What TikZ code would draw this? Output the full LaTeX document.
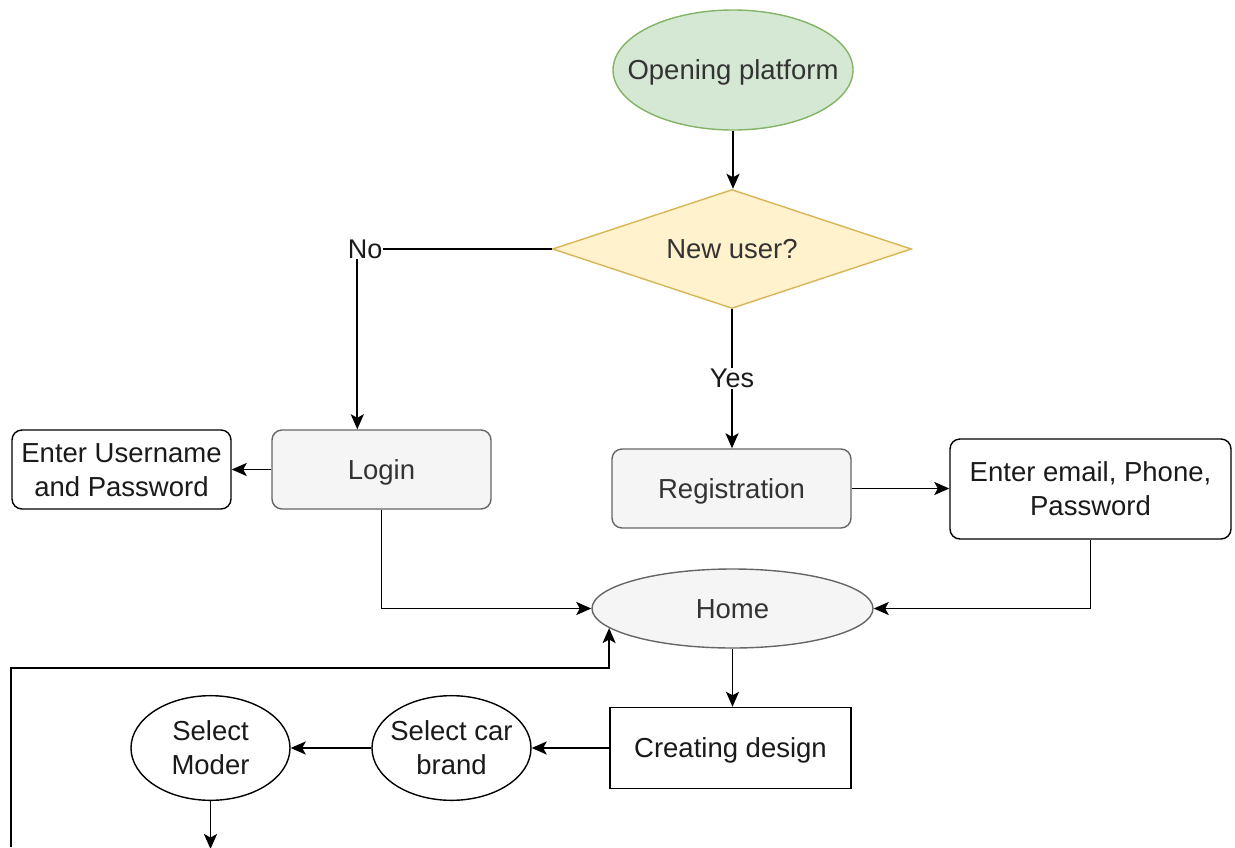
\documentclass[tikz,border=0pt]{standalone}
\usepackage{fontspec}
\setmainfont{Liberation Sans}
\usetikzlibrary{shapes.geometric,arrows.meta,calc}
\definecolor{startfill}{HTML}{D5E8D4}
\definecolor{startline}{HTML}{82B366}
\definecolor{askfill}{HTML}{FFF2CC}
\definecolor{askline}{HTML}{D6B656}
\definecolor{grayfill}{HTML}{F5F5F5}
\definecolor{grayline}{HTML}{666666}
\definecolor{graytext}{HTML}{333333}
\definecolor{inktext}{HTML}{1A1A1A}
% zero-width centred text so the shape keeps its given size;
% the extra height sets the text a little below the node centre
\newcommand{\zw}[1]{\makebox[0pt]{\raisebox{0pt}[\dimexpr\height+6pt\relax][\depth]{\begin{tabular}{@{}c@{}}#1\end{tabular}}}}
\tikzset{
  base/.style={inner sep=0pt, line width=1.4pt, font=\fontsize{27.5}{34}\selectfont, text=inktext},
  startnode/.style={base, ellipse, draw=startline, fill=startfill, text=graytext},
  asknode/.style={base, diamond, draw=askline, fill=askfill, text=graytext},
  graybox/.style={base, rectangle, rounded corners=10pt, draw=grayline, fill=grayfill, text=graytext},
  grayoval/.style={base, ellipse, draw=grayline, fill=grayfill, text=graytext},
  inbox/.style={base, rectangle, rounded corners=10pt, draw=black, fill=white},
  plainbox/.style={base, rectangle, draw=black, fill=white},
  oval/.style={base, ellipse, draw=black, fill=white},
  arr/.style={line width=1.9pt, -{Stealth[length=15pt,width=13pt,inset=3.5pt]}},
  lbl/.style={fill=white, inner sep=1pt, text=inktext, font=\fontsize{27}{32}\selectfont}
}
\begin{document}
\begin{tikzpicture}[x=1pt,y=-1pt]
\useasboundingbox (0,0) rectangle (1235,847);

\node[startnode, minimum width=240pt, minimum height=120pt] (open) at (733,70) {\zw{Opening platform}};
\node[asknode, minimum width=359pt, minimum height=119pt] (ask) at (732,249) {\zw{New user?}};
\node[graybox, minimum width=219pt, minimum height=79pt] (login) at (381.5,469.5) {\zw{Login}};
\node[inbox, minimum width=219pt, minimum height=79pt] (cred) at (121.5,469.5) {\zw{Enter Username\\and Password}};
\node[graybox, minimum width=239pt, minimum height=79pt] (reg) at (731.5,488.5) {\zw{Registration}};
\node[inbox, minimum width=281pt, minimum height=100pt] (mail) at (1090.5,489) {\zw{Enter email, Phone,\\Password}};
\node[grayoval, minimum width=281pt, minimum height=79pt] (home) at (732.5,608.5) {\zw{Home}};
\node[plainbox, minimum width=241pt, minimum height=81pt] (design) at (730.5,748) {\zw{Creating design}};
\node[oval, minimum width=159pt, minimum height=87pt] (brand) at (451.5,748) {\zw{Select car\\brand}};
\node[oval, minimum width=159pt, minimum height=99pt] (model) at (210.5,748) {\zw{Select\\Moder}};

\coordinate (modelout) at ($(model.south)+(0,48)$);
\coordinate (loopstart) at (11,847);
\coordinate (loopturn) at (11,668);

\draw[arr] (open.south) -- (open.south |- ask.north);
\draw[arr] (ask.west) -| node[lbl, pos=0.48] {No} ($(login.north west)+(86,0)$);
\draw[arr] (ask.south) -- node[lbl] {Yes} (ask.south |- reg.north);
\draw[arr] (login.west) -- (cred.east);
\draw[arr] (reg.east) -- (reg.east -| mail.west);
\draw[arr] (login.south) |- (home.west);
\draw[arr] (mail.south) |- (home.east);
\draw[arr] (home.south) -- (home.south |- design.north);
\draw[arr] (design.west) -- (brand.east);
\draw[arr] (brand.west) -- (model.east);
\draw[arr] (model.south) -- (modelout);
\draw[arr] (loopstart) -- (loopturn) -| (home.189.5);
\end{tikzpicture}
\end{document}
